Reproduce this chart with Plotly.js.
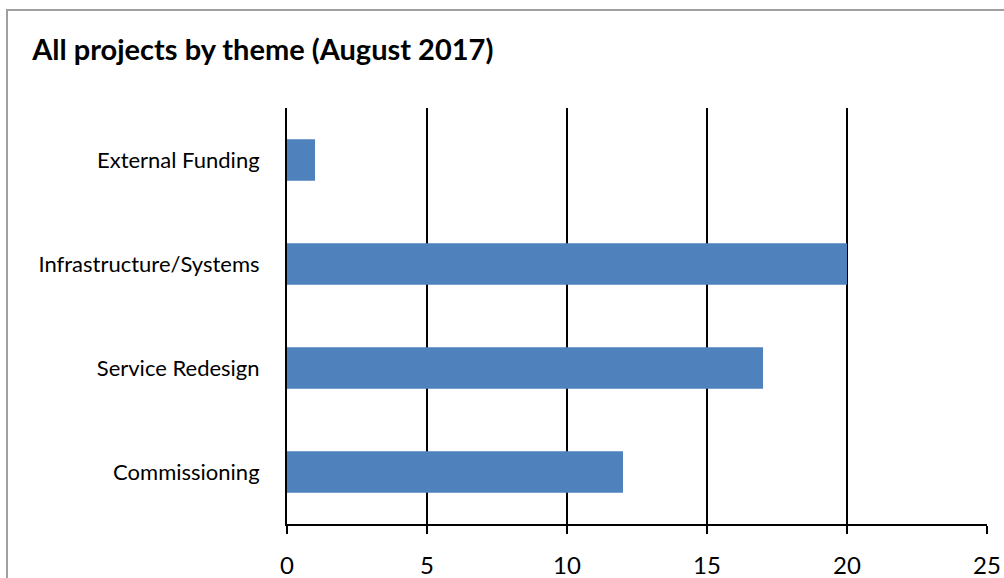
<!DOCTYPE html>
<html><head><meta charset="utf-8">
<script src="https://cdn.plot.ly/plotly-3.0.1.min.js"></script>
<style>
html,body{margin:0;padding:0;background:#fff;}
#wrap{position:relative;width:1004px;height:578px;overflow:hidden;}
#frame{position:absolute;left:6px;top:9px;width:1100px;height:700px;border:2px solid #a0a0a0;box-sizing:border-box;}
#chart{position:absolute;left:0;top:0;width:1004px;height:578px;}
</style></head>
<body><div id="wrap"><div id="frame"></div><div id="chart"></div></div>
<script>
const categories = ["Commissioning", "Service Redesign", "Infrastructure/Systems", "External Funding"];
const projectCounts = [12, 17, 20, 1];
const xTicks = [0, 5, 10, 15, 20, 25];

const font = "Lato, 'Open Sans', sans-serif";
Plotly.newPlot('chart', [{
  type: 'bar', orientation: 'h',
  y: categories, x: projectCounts,
  marker: {color: '#4F81BD'},
  hoverinfo: 'x+y'
}], {
  width: 1004, height: 578,
  paper_bgcolor: 'rgba(0,0,0,0)', plot_bgcolor: 'rgba(0,0,0,0)',
  margin: {l: 287, r: 17, t: 108, b: 54},
  bargap: 0.6,
  showlegend: false,
  title: {text: '<b>All projects by theme (August 2017)</b>', x: 0.032, xanchor: 'left', xref: 'container', y: 0.914, yanchor: 'middle', yref: 'container',
          font: {family: font, size: 29, color: '#000'}},
  xaxis: {range: [0, 25], tickvals: xTicks, ticktext: xTicks.map(String), showgrid: true, gridcolor: '#000', gridwidth: 2,
          zeroline: false, showline: true, linecolor: '#000', linewidth: 2, ticks: 'outside', ticklen: 8, tickwidth: 2, tickcolor: '#000',
          ticklabelstandoff: 11, tickfont: {family: font, size: 24, color: '#000'}, fixedrange: true},
  yaxis: {showgrid: false, zeroline: false, showline: true, linecolor: '#000', linewidth: 2, ticks: '', ticklabelstandoff: 21,
          tickfont: {family: font, size: 22, color: '#000'}, fixedrange: true}
}, {displayModeBar: false, staticPlot: true});
</script></body></html>
